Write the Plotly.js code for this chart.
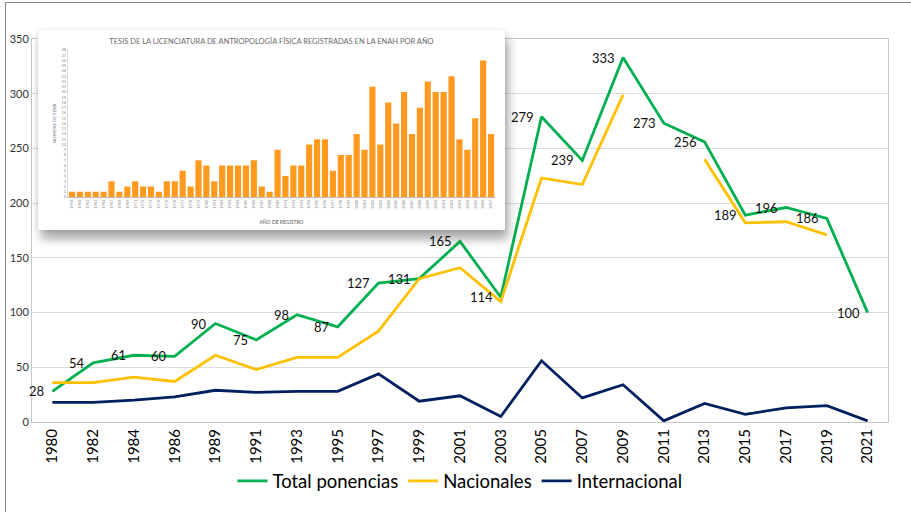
<!DOCTYPE html>
<html>
<head>
<meta charset="utf-8">
<script src="https://cdn.plot.ly/plotly-3.0.1.min.js"></script>
<style>
  html, body { margin: 0; padding: 0; background: #fff; }
  #wrap { position: relative; width: 911px; height: 512px; overflow: hidden; }
  #main { position: absolute; left: 0; top: 0; width: 911px; height: 512px; }
  #frame { position: absolute; left: 5px; top: 2px; width: 2000px; height: 2000px;
           border-left: 1.5px solid #8a8a8a; border-top: 1.5px solid #8a8a8a; pointer-events: none; }
  #inset { position: absolute; left: 38px; top: 30px; width: 467px; height: 200px; background: #fff;
           box-shadow: 3px 9px 10px rgba(0,0,0,0.35), 0 0 4px rgba(0,0,0,0.12); }
</style>
</head>
<body>
<div id="wrap">
  <div id="main"></div>
  <div id="inset"></div>
  <div id="frame"></div>
</div>
<script>
// ---- Main chart data ----
const years = ["1980","1982","1984","1986","1989","1991","1993","1995","1997","1999","2001",
               "2003","2005","2007","2009","2011","2013","2015","2017","2019","2021"];
const totalPonencias = [28,54,61,60,90,75,98,87,127,131,165,114,279,239,333,273,256,189,196,186,100];
const nacionales = [36,36,41,37,61,48,59,59,83,131,141,110,223,217,299,null,240,182,183,171,null];
const internacional = [18,18,20,23,29,27,28,28,44,19,24,5,56,22,34,1,17,7,13,15,1];

// ---- Inset bar chart data ----
const insetYears = ["1958","1960","1962","1963","1964","1967","1968","1969","1971","1972","1973","1974",
  "1975","1976","1977","1978","1979","1980","1981","1982","1983","1984","1985","1986","1987","1988",
  "1989","1991","1992","1993","1994","1995","1996","1997","1998","1999","2000","2001","2002","2003",
  "2004","2005","2006","2007","2008","2009","2010","2011","2012","2013","2014","2015","2016","2017"];
const insetTesis = [1,1,1,1,1,3,1,2,3,2,2,1,3,3,5,2,7,6,3,6,6,6,6,7,2,1,9,4,6,6,10,11,11,5,8,8,12,9,
  21,10,18,14,20,12,17,22,20,20,23,11,9,15,26,12];
const insetTitle = "TESIS DE LA LICENCIATURA DE ANTROPOLOGÍA FÍSICA REGISTRADAS EN LA ENAH POR AÑO";

const FONT = "Lato, 'Open Sans', sans-serif";

const traces = [
  { x: years, y: totalPonencias, name: "Total ponencias", type: "scatter", mode: "lines",
    line: { color: "#00B050", width: 2.8 } },
  { x: years, y: nacionales, name: "Nacionales", type: "scatter", mode: "lines",
    connectgaps: false, line: { color: "#FFC000", width: 2.8 } },
  { x: years, y: internacional, name: "Internacional", type: "scatter", mode: "lines",
    line: { color: "#002060", width: 2.8 } }
];

// data labels: category index i on the category axis
const labelAnnotations = years.map((yr, i) => ({
  x: i, y: totalPonencias[i], xref: "x", yref: "y", text: String(totalPonencias[i]),
  showarrow: false, xanchor: "right", yanchor: "middle", xshift: -6,
  font: { family: FONT, size: 13, color: "#111" }
}));

const layout = {
  width: 911, height: 512,
  margin: { l: 32, r: 23, t: 39, b: 90 },
  paper_bgcolor: "rgba(0,0,0,0)", plot_bgcolor: "#fff",
  font: { family: FONT, color: "#404040" },
  showlegend: true,
  legend: { orientation: "h", x: 0.5, xanchor: "center", y: -0.155, yanchor: "middle",
            font: { family: FONT, size: 18.5, color: "#000" }, traceorder: "normal", itemwidth: 30 },
  annotations: labelAnnotations,
  xaxis: { type: "category", range: [-0.5, years.length - 0.5], tickangle: -90,
           tickfont: { family: FONT, size: 15, color: "#000" },
           showgrid: false, showline: true, mirror: true, linecolor: "#c8c8c8", linewidth: 1,
           ticks: "", ticklen: 0 },
  yaxis: { range: [0, 350], dtick: 50, tickfont: { family: FONT, size: 11, color: "#333" },
           showgrid: true, gridcolor: "#dcdcdc", gridwidth: 1, zeroline: false,
           showline: true, mirror: true, linecolor: "#c8c8c8", linewidth: 1, ticks: "" }
};

Plotly.newPlot("main", traces, layout, { displayModeBar: false, staticPlot: true });

const insetTrace = [{ x: insetYears, y: insetTesis, type: "bar", marker: { color: "#FF9A1F" } }];
const insetLayout = {
  width: 467, height: 200,
  margin: { l: 30, r: 10, t: 20, b: 33 },
  paper_bgcolor: "#fff", plot_bgcolor: "#fff",
  bargap: 0.22, showlegend: false,
  font: { family: FONT, color: "#7f7f7f" },
  title: { text: insetTitle, font: { family: FONT, size: 7.5, color: "#6a6a6a" }, x: 0.5, xanchor: "center",
           y: 0.945, yanchor: "middle" },
  xaxis: { type: "category", tickangle: -90, tickfont: { size: 4, color: "#8a8a8a" },
           showline: true, linecolor: "#bdbdbd", ticks: "", showgrid: false,
           title: { text: "AÑO DE REGISTRO", font: { size: 5, color: "#555" }, standoff: 12 } },
  yaxis: { range: [0, 28], dtick: 1, tickfont: { size: 4, color: "#8a8a8a" },
           showgrid: false, showline: true, linecolor: "#dddddd", zeroline: false, ticks: "",
           title: { text: "NÚMERO DE TESIS", font: { size: 4.5, color: "#555" }, standoff: 4 } }
};
Plotly.newPlot("inset", insetTrace, insetLayout, { displayModeBar: false, staticPlot: true });
</script>
</body>
</html>
